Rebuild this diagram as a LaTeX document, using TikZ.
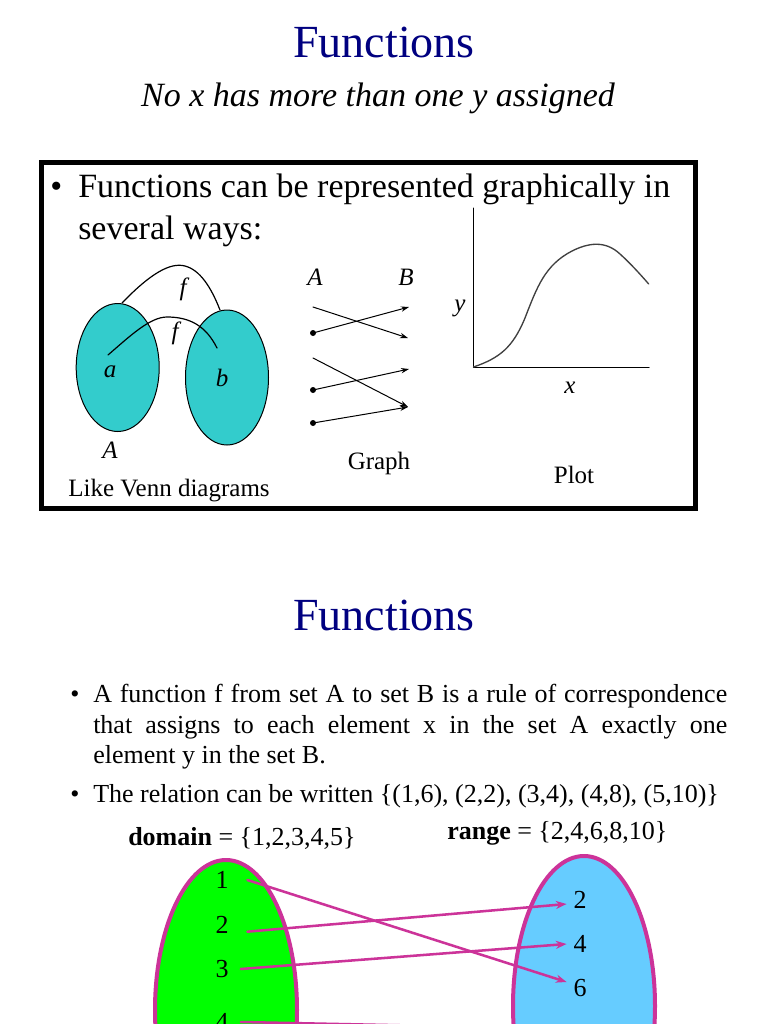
\documentclass[tikz,border=0pt]{standalone}
\usepackage{fontspec}
\setmainfont{Liberation Serif}
\usetikzlibrary{arrows.meta}
\definecolor{titleblue}{HTML}{000080}
\definecolor{venn}{HTML}{33CCCC}
\definecolor{rim}{HTML}{CC3399}
\definecolor{domfill}{HTML}{00FF00}
\definecolor{ranfill}{HTML}{66CCFF}
\definecolor{curvegray}{HTML}{404040}
\tikzset{
	title/.style={font=\fontsize{34.5}{40}\selectfont, text=titleblue, anchor=base, inner sep=0pt},
	big/.style={font=\fontsize{25.5}{30}\selectfont, anchor=base west, inner sep=0pt},
	body/.style={font=\fontsize{19.5}{23}\selectfont, anchor=base west, inner sep=0pt},
	lab/.style={font=\fontsize{18.75}{22}\selectfont\itshape, inner sep=0pt},
	caption/.style={font=\fontsize{18.75}{22}\selectfont, inner sep=0pt},
	num/.style={font=\fontsize{19.5}{23}\selectfont, inner sep=0pt},
	rel/.style={rim, line width=1.9pt, -{Stealth[length=8pt,width=6pt]}},
	map/.style={line width=0.75pt, -{Stealth[length=6pt,width=4pt]}},
}
\begin{document}
\begin{tikzpicture}[x=0.75pt, y=-0.75pt, line join=round, line cap=round]
	\useasboundingbox (0,0) rectangle (768,1024);
	\clip (0,0) rectangle (768,1024);
	\fill[white] (0,0) rectangle (768,1024);
	
	\node[title] (t1) at (384,58) {Functions};
	\node[big, anchor=base, font=\fontsize{25.5}{30}\selectfont\itshape] (sub) at (378,107) {No x has more than one y assigned};
	
	\draw[line width=3.75pt, line cap=butt, line join=miter] (41.5,162.5) rectangle (695,508);
	\node[big] (dot1) at (50,197) {\textbullet};
	\node[big] (l1) at (78,197) {Functions can be represented graphically in};
	\node[big] (l2) at (78,239) {several ways:};
	
	% venn
	\fill[venn, draw=black, line width=0.75pt] (117.7,367.5) ellipse [x radius=41.5, y radius=64];
	\fill[venn, draw=black, line width=0.75pt] (227,377.5) ellipse [x radius=41.5, y radius=67.5];
	\coordinate (P1) at (122,303);
	\coordinate (P2) at (220,310);
	\coordinate (Q1) at (108,355);
	\coordinate (Q2) at (217,348);
	\draw[line width=0.9pt] (P1) .. controls (150,274) and (170,262) .. (185,266) .. controls (200,270) and (211,287) .. (P2);
	\draw[line width=0.9pt] (Q1) .. controls (130,336) and (150,317) .. (167,317) .. controls (190,317) and (206,326) .. (Q2);
	\node[lab] (f1) at (183,289) {f};
	\node[lab] (f2) at (175,333) {f};
	\node[lab] (a) at (110,372) {a};
	\node[lab] (b) at (222,378) {b};
	\node[lab] (A) at (110,450) {A};
	\node[caption] (venncap) at (169,491) {Like Venn diagrams};
	
	% graph
	\node[lab] (GA) at (315,277) {A};
	\node[lab] (GB) at (406,277) {B};
	\coordinate (g1) at (313,307);
	\coordinate (g2) at (313,333);
	\coordinate (g3) at (313,358);
	\coordinate (g4) at (313,390);
	\coordinate (g5) at (313,423);
	\coordinate (h1) at (409,307);
	\coordinate (h2) at (408,338);
	\coordinate (h3) at (409,369);
	\coordinate (h4) at (408,407);
	\draw[map] (g1) -- (h2);
	\draw[map] (g2) -- (h1);
	\draw[map] (g3) -- (h4);
	\draw[map] (g4) -- (h3);
	\draw[map] (g5) -- (h4);
	\fill (g2) circle (3);
	\fill (g4) circle (3);
	\fill (g5) circle (3);
	\node[caption] (graphcap) at (379,463) {Graph};
	
	% plot
	\coordinate (O) at (473.5,367);
	\draw[line width=0.75pt] (473.5,208) -- (O) -- (649,367);
	\draw[curvegray, line width=1pt] (O) .. controls (500,358) and (513,347) .. (525,318) .. controls (537,287) and (545,265) .. (572,251) .. controls (588,243) and (605,240) .. (620,254) .. controls (630,263) and (640,274) .. (648.7,284);
	\node[lab] (py) at (460,308) {y};
	\node[lab] (px) at (570,388) {x};
	\node[caption] (plotcap) at (574,475) {Plot};
	
	% second slide
	\node[title] (t2) at (384,630) {Functions};
	\node[body] (dot2) at (70,702) {\textbullet};
	\node[body] (r1) at (93,702) {\makebox[475.5pt][s]{A function f from set A to set B is a rule of correspondence}};
	\node[body] (r2) at (93,733) {\makebox[475.5pt][s]{that assigns to each element x in the set A exactly one}};
	\node[body] (r3) at (93,763) {element y in the set B.};
	\node[body] (dot3) at (70,802) {\textbullet};
	\node[body] (r4) at (93,802) {The relation can be written \{(1,6), (2,2), (3,4), (4,8), (5,10)\}};
	\node[body] (dom) at (128,845) {\textbf{domain} = \{1,2,3,4,5\}};
	\node[body] (ran) at (447,839) {\textbf{range} = \{2,4,6,8,10\}};
	
	\draw[rim, line width=3pt, fill=domfill] (226,1010) ellipse [x radius=71, y radius=150];
	\draw[rim, line width=3pt, fill=ranfill] (584,1006) ellipse [x radius=71, y radius=150];
	\node[num] (a1) at (222,880) {1};
	\node[num] (a2) at (222,925) {2};
	\node[num] (a3) at (222,969) {3};
	\node[num] (a4) at (222,1022) {4};
	\node[num] (b2) at (580,900) {2};
	\node[num] (b4) at (580,944) {4};
	\node[num] (b6) at (580,988) {6};
	\node[num] (b8) at (580,1034) {8};
	\draw[rel] ([xshift=14pt]a1.east) -- ([xshift=-5pt,yshift=4.5pt]b6.west);
	\draw[rel] ([xshift=14pt,yshift=-5pt]a2.east) -- ([xshift=-5pt,yshift=-3pt]b2.west);
	\draw[rel] ([xshift=9pt]a3.east) -- ([xshift=-5pt]b4.west);
	\draw[rel] ([xshift=9pt]a4.east) -- ([xshift=-5pt,yshift=4pt]b8.west);
\end{tikzpicture}
\end{document}
